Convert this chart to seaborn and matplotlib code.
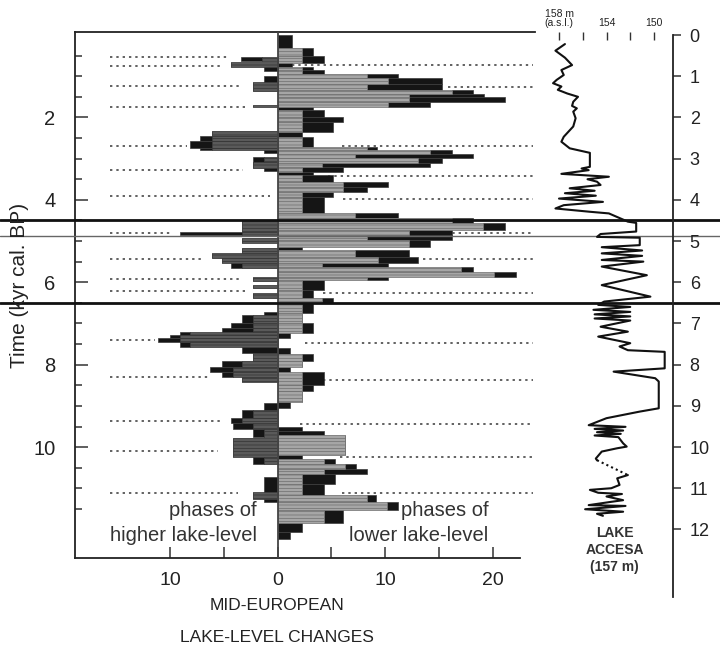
import matplotlib
matplotlib.use("Agg")
import matplotlib.pyplot as plt
import seaborn as sns
import numpy as np
import pandas as pd
from matplotlib.transforms import blended_transform_factory

sns.set_theme(style="white")
plt.rcParams["font.family"] = ["Liberation Sans", "DejaVu Sans"]
plt.rcParams["hatch.linewidth"] = 0.5
plt.rcParams["hatch.color"] = "#6e6e6e"

# ---------------- data: lower lake-level phases (right side) ----------------
r_t0 = [0.00, 0.32, 0.50, 0.69, 0.77, 0.85, 0.95, 1.05, 1.20, 1.34, 1.42, 1.50, 1.62, 1.74,
        1.82, 2.00, 2.12, 2.35, 2.47, 2.71, 2.79, 2.89, 2.99, 3.11, 3.20, 3.32, 3.40, 3.56,
        3.68, 3.80, 3.92, 4.33, 4.45, 4.55, 4.73, 4.85, 4.97, 5.14, 5.22, 5.38, 5.54, 5.62,
        5.74, 5.86, 5.94, 6.19, 6.39, 6.51, 6.75, 7.00, 7.24, 7.60, 7.73, 7.90, 8.05, 8.17,
        8.50, 8.65, 8.90, 9.50, 9.60, 9.71, 10.20, 10.28, 10.40, 10.52, 10.64, 10.90, 11.17,
        11.33, 11.53, 11.85, 12.05]
r_t1 = [0.32, 0.50, 0.69, 0.77, 0.85, 0.95, 1.05, 1.20, 1.34, 1.42, 1.50, 1.62, 1.74, 1.82,
        2.00, 2.12, 2.35, 2.47, 2.71, 2.79, 2.89, 2.99, 3.11, 3.20, 3.32, 3.40, 3.56, 3.68,
        3.80, 3.92, 4.33, 4.45, 4.55, 4.73, 4.85, 4.97, 5.14, 5.22, 5.38, 5.54, 5.62, 5.74,
        5.86, 5.94, 6.19, 6.39, 6.51, 6.75, 7.00, 7.24, 7.36, 7.73, 7.90, 8.05, 8.17, 8.50,
        8.65, 8.90, 9.05, 9.60, 9.71, 10.20, 10.28, 10.40, 10.52, 10.64, 10.90, 11.17, 11.33,
        11.53, 11.85, 12.05, 12.22]
r_gray = [0, 2.25, 2.25, 0, 2.25, 2.25, 8.3, 10.3, 8.3, 16.2, 12.2, 12.2, 10.3, 0,
          2.25, 2.25, 2.25, 0, 2.25, 8.3, 14.2, 7.2, 13.1, 4.1, 2.25, 0, 2.25, 6.1,
          6.1, 2.25, 2.25, 7.2, 16.2, 19.1, 12.2, 8.3, 12.2, 0, 7.2, 9.3, 4.1, 17.1,
          20.1, 8.3, 2.25, 2.25, 4.1, 2.25, 2.25, 2.25, 0, 0, 2.25, 2.25, 0, 2.25,
          2.25, 2.25, 0, 0, 0, 6.3, 0, 4.3, 6.3, 4.3, 2.25, 2.25, 8.3,
          10.2, 4.3, 0, 0]
r_total = [1.3, 3.3, 4.3, 1.3, 3.3, 4.3, 11.2, 15.3, 15.3, 18.2, 19.2, 21.2, 14.2, 3.3,
           4.3, 6.1, 5.2, 2.25, 3.3, 9.25, 16.2, 18.2, 15.3, 14.2, 6.1, 3.3, 5.2, 10.3,
           8.3, 5.2, 4.3, 11.2, 18.2, 21.2, 16.2, 16.2, 14.2, 2.25, 12.2, 13.1, 10.3, 18.2,
           22.2, 10.3, 4.3, 3.3, 5.2, 3.3, 2.25, 3.3, 1.2, 1.2, 3.3, 2.25, 1.2, 4.3,
           3.3, 2.25, 1.2, 2.25, 4.3, 6.3, 2.25, 5.3, 7.3, 8.3, 5.3, 4.3, 9.2,
           11.2, 6.1, 2.25, 1.2]

# ---------------- data: higher lake-level phases (left side) ----------------
l_t0 = [0.53, 0.65, 0.77, 1.00, 1.13, 1.71, 2.32, 2.45, 2.57, 2.73, 2.79, 2.95, 3.07, 3.22,
        4.49, 4.77, 4.93, 5.18, 5.30, 5.42, 5.54, 5.86, 6.07, 6.25, 6.71, 6.79, 6.99, 7.10,
        7.20, 7.28, 7.36, 7.44, 7.56, 7.72, 7.92, 8.05, 8.17, 8.29, 8.94, 9.10, 9.30, 9.42,
        9.55, 9.78, 10.23, 10.72, 11.08, 11.25]
l_t1 = [0.62, 0.77, 0.87, 1.13, 1.37, 1.75, 2.45, 2.57, 2.73, 2.79, 2.86, 3.07, 3.22, 3.30,
        4.77, 4.85, 5.04, 5.30, 5.42, 5.54, 5.66, 5.98, 6.15, 6.37, 6.79, 6.99, 7.10, 7.20,
        7.28, 7.36, 7.44, 7.56, 7.72, 7.92, 8.05, 8.17, 8.29, 8.41, 9.10, 9.30, 9.42, 9.55,
        9.75, 10.23, 10.40, 11.08, 11.25, 11.33]
l_gray = [1.4, 4.3, 0, 0, 2.3, 2.3, 6.1, 6.1, 6.1, 6.1, 0, 1.3, 2.3, 0,
          3.3, 3.3, 3.3, 3.3, 6.1, 5.2, 3.3, 2.3, 2.3, 2.3, 0, 2.25, 2.25, 2.25,
          8.1, 9.1, 9.1, 8.1, 0, 2.25, 3.3, 4.1, 4.1, 3.3, 0, 2.3, 3.3, 2.3,
          1.3, 4.1, 1.3, 0, 2.25, 0]
l_total = [3.4, 4.3, 1.3, 1.3, 2.3, 2.3, 6.1, 7.2, 8.1, 7.2, 1.3, 2.3, 2.3, 1.3,
           3.3, 9.1, 3.3, 3.3, 6.1, 5.2, 4.3, 2.3, 2.3, 2.3, 1.3, 3.3, 4.3, 5.2,
           9.1, 10.0, 11.1, 9.1, 3.3, 2.25, 5.2, 6.3, 5.2, 3.3, 1.3, 3.3, 4.3, 4.1,
           2.3, 4.1, 2.3, 1.3, 2.25, 1.3]

# dotted marker lines
l_dot_t = [0.54, 0.74, 1.24, 1.74, 2.69, 3.28, 3.90, 4.81, 5.44, 5.91, 6.21, 7.39, 8.31, 9.36, 10.10, 11.11]
l_dot_end = [4.7, 5.1, 3.5, 3.0, 8.4, 3.2, 0.7, 9.8, 6.9, 3.5, 3.0, 11.4, 6.3, 5.1, 5.5, 3.7]
r_dot_t = [0.73, 1.27, 2.69, 3.41, 3.99, 4.80, 5.43, 6.27, 7.47, 8.37, 9.44, 10.23, 11.12]
r_dot_start = [1.3, 15.9, 6.0, 4.7, 6.1, 15.7, 13.5, 4.2, 2.6, 4.2, 2.1, 5.8, 6.0]

# ---------------- data: Lake Accesa level curve ----------------
acc_t = [0.22, 0.38, 0.55, 0.73, 0.85, 0.97, 1.09, 1.17, 1.25, 1.33, 1.42, 1.50, 1.62, 1.72,
         1.78, 1.86, 2.02, 2.22, 2.47, 2.59, 2.75, 2.86, 3.20, 3.24, 3.28, 3.37, 3.44, 3.50,
         3.56, 3.64, 3.72, 3.78, 3.84, 3.90, 3.97, 4.05, 4.13, 4.21, 4.29, 4.33, 4.53, 4.56,
         4.77, 4.83, 4.90, 4.92, 5.10, 5.15, 5.23, 5.30, 5.36, 5.46, 5.50, 5.62, 5.83, 6.07,
         6.35, 6.47, 6.55, 6.60, 6.67, 6.72, 6.78, 6.83, 6.88, 6.93, 7.08, 7.20, 7.32, 7.48,
         7.56, 7.65, 7.69, 8.09, 8.17, 8.33, 8.41, 9.06, 9.14, 9.30, 9.47, 9.51, 9.56, 9.60,
         9.64, 9.68, 9.72, 9.76, 9.91, 9.99, 10.03, 10.11, 10.28, 10.32]
acc_m = [157.5, 158.3, 157.5, 156.9, 157.8, 157.6, 158.2, 158.5, 157.8, 158.1, 157.3, 156.4,
         156.8, 156.9, 156.5, 156.8, 156.6, 156.8, 157.6, 157.8, 157.1, 155.4, 155.4, 156.1,
         155.5, 157.8, 153.8, 155.6, 154.8, 154.5, 157.1, 155.0, 157.5, 154.9, 158.0, 154.3,
         157.6, 158.3, 155.4, 153.8, 152.2, 151.5, 151.5, 154.5, 154.8, 151.2, 151.2, 154.4,
         151.0, 154.4, 151.0, 154.4, 150.9, 154.4, 150.6, 154.4, 150.3, 154.2, 154.7, 152.0,
         155.1, 152.0, 155.0, 152.0, 155.0, 152.0, 154.5, 152.2, 154.7, 152.0, 152.9, 152.2,
         149.1, 149.1, 153.4, 149.9, 149.6, 149.6, 151.2, 154.0, 155.5, 152.4, 155.0, 152.6,
         154.8, 152.8, 155.0, 153.0, 152.6, 152.3, 153.1, 154.4, 154.9, 154.8]
gap_t = [10.32, 10.68]
gap_m = [154.8, 152.2]
acc2_t = [10.68, 10.76, 10.92, 11.00, 11.04, 11.11, 11.14, 11.20, 11.29, 11.33, 11.41, 11.43,
          11.51, 11.57, 11.62, 11.67]
acc2_m = [152.2, 153.1, 152.9, 153.6, 155.4, 154.7, 152.7, 154.0, 152.6, 153.6, 155.5, 152.4,
          155.8, 152.6, 154.8, 154.3]

time_ticks = [0, 1, 2, 3, 4, 5, 6, 7, 8, 9, 10, 11, 12]
left_yticks = [2, 4, 6, 8, 10]
x_ticks = [-10, 0, 10, 20]
x_ticklabels = ["10", "0", "10", "20"]
acc_ticks = [158, 156, 154, 152, 150]
acc_ticklabels = ["158 m\n(a.s.l.)", "", "154", "", "150"]

# ---------------- figure ----------------
fig = plt.figure(figsize=(7.2, 6.53), dpi=100)
ax1 = fig.add_axes([75 / 720, 1 - 558 / 653, 460 / 720, 526 / 653])
ax2 = fig.add_axes([540 / 720, 1 - 597 / 653, 133 / 720, 565 / 653])
ax2.set_facecolor("none")

LIGHT = "#a6a6a6"
DARK = "#5a5a5a"
BLACK = "#151515"
EDGE = "#3c3c3c"

rt0, rt1 = np.array(r_t0), np.array(r_t1)
rc, rh = (rt0 + rt1) / 2, rt1 - rt0
rg, rtot = np.array(r_gray), np.array(r_total)
ax1.barh(rc, rtot - rg, height=rh, left=rg, color=BLACK, edgecolor=EDGE, linewidth=0.5, zorder=2)
ax1.barh(rc, rg, height=rh, left=0, color=LIGHT, edgecolor="#6e6e6e", linewidth=0.5,
         hatch="-----", zorder=2)

lt0, lt1 = np.array(l_t0), np.array(l_t1)
lc, lh = (lt0 + lt1) / 2, lt1 - lt0
lg, ltot = np.array(l_gray), np.array(l_total)
ax1.barh(lc, -(ltot - lg), height=lh, left=-lg, color=BLACK, edgecolor=EDGE, linewidth=0.5, zorder=2)
ax1.barh(lc, -lg, height=lh, left=0, color=DARK, edgecolor="#333333", linewidth=0.5,
         hatch="-----", zorder=2)

ax1.axvline(0, color="#444444", lw=1.3, zorder=3)

dot_style = (0, (1.3, 2.2))
ax1.hlines(l_dot_t, -15.6, -np.array(l_dot_end), colors="#555555", linestyles=[dot_style],
           lw=1.3, clip_on=False, zorder=1)
ax1.hlines(r_dot_t, np.array(r_dot_start), 23.8, colors="#555555", linestyles=[dot_style],
           lw=1.3, clip_on=False, zorder=1)

ax1.set_xlim(-18.84, 23.95)
ax1.set_ylim(12.69, -0.073)
for s in ["left", "top", "bottom"]:
    ax1.spines[s].set_color("#222222")
    ax1.spines[s].set_linewidth(1.3)
ax1.spines["right"].set_visible(False)
ax1.spines["bottom"].set_bounds(-18.84, 22.56)

ax1.set_yticks(left_yticks)
ax1.set_yticks([v for v in np.arange(0.5, 11.6, 0.5) if v not in left_yticks], minor=True)
ax1.set_xticks(x_ticks)
ax1.set_xticklabels(x_ticklabels)
ax1.set_xticks([-5, 5, 15], minor=True)
ax1.tick_params(axis="y", which="major", direction="in", length=9, width=1.1, color="#333333",
                labelsize=14.5, labelcolor="#222222", left=True, pad=14)
ax1.tick_params(axis="y", which="minor", direction="in", length=5, width=1.1, color="#333333", left=True)
ax1.tick_params(axis="x", which="both", direction="in", length=8, width=1.1, color="#333333",
                labelsize=14, labelcolor="#222222", bottom=True, pad=10)

ax1.text(-1.9, 11.53, "phases of", ha="right", va="center", fontsize=14.5, color="#333333", zorder=5)
ax1.text(-1.9, 12.14, "higher lake-level", ha="right", va="center", fontsize=14.5, color="#333333", zorder=5)
ax1.text(19.6, 11.53, "phases of", ha="right", va="center", fontsize=14.5, color="#333333", zorder=5)
ax1.text(19.6, 12.14, "lower lake-level", ha="right", va="center", fontsize=14.5, color="#333333", zorder=5)

fig.text(277 / 720, 1 - 606 / 653, "MID-EUROPEAN", ha="center", va="center", fontsize=12.5, color="#222222")
fig.text(277 / 720, 1 - 638 / 653, "LAKE-LEVEL CHANGES", ha="center", va="center", fontsize=12.5, color="#222222")
fig.text(20 / 720, 1 - 285 / 653, "Time (kyr cal. BP)", rotation=90, ha="center", va="center",
         fontsize=15, color="#222222")

# box lines spanning the whole figure
btr = blended_transform_factory(fig.transFigure, ax1.transData)
ax1.plot([0, 1], [4.5, 4.5], transform=btr, color="#111111", lw=2.0, clip_on=False, zorder=6)
ax1.plot([0, 1], [6.5, 6.5], transform=btr, color="#111111", lw=2.0, clip_on=False, zorder=6)
ax1.plot([0, 1], [4.88, 4.88], transform=btr, color="#666666", lw=1.0, clip_on=False, zorder=6)

# ---------------- Lake Accesa ----------------
df1 = pd.DataFrame({"level": acc_m, "time": acc_t})
df2 = pd.DataFrame({"level": gap_m, "time": gap_t})
df3 = pd.DataFrame({"level": acc2_m, "time": acc2_t})
sns.lineplot(data=df1, x="level", y="time", sort=False, estimator=None, orient="y",
             color="#111111", lw=1.5, ax=ax2)
sns.lineplot(data=df2, x="level", y="time", sort=False, estimator=None, orient="y",
             color="#111111", lw=1.5, linestyle=(0, (1, 1.5)), ax=ax2)
sns.lineplot(data=df3, x="level", y="time", sort=False, estimator=None, orient="y",
             color="#111111", lw=1.5, ax=ax2)

ax2.set_xlim(159.6, 148.4)
ax2.set_ylim(13.64, -0.073)
ax2.set_xlabel("")
ax2.set_ylabel("")
for s in ["left", "top", "bottom"]:
    ax2.spines[s].set_visible(False)
ax2.spines["right"].set_color("#222222")
ax2.spines["right"].set_linewidth(1.3)
ax2.spines["right"].set_bounds(0, 13.64)
ax2.yaxis.tick_right()
ax2.set_yticks(time_ticks)
ax2.tick_params(axis="y", direction="out", length=6, width=1.1, color="#333333",
                labelsize=13, labelcolor="#222222", right=True, left=False, pad=6)
ax2.xaxis.tick_top()
ax2.set_xticks(acc_ticks)
ax2.set_xticklabels(acc_ticklabels, linespacing=0.85)
ax2.tick_params(axis="x", direction="in", length=6, width=1.0, color="#333333",
                labelsize=7.5, labelcolor="#222222", top=True, bottom=False, pad=3)

ax2.text(153.3, 12.5, "LAKE\nACCESA\n(157 m)", ha="center", va="center", fontsize=10,
         fontweight="bold", color="#333333", linespacing=1.25)

fig.savefig("out.png", dpi=100)
